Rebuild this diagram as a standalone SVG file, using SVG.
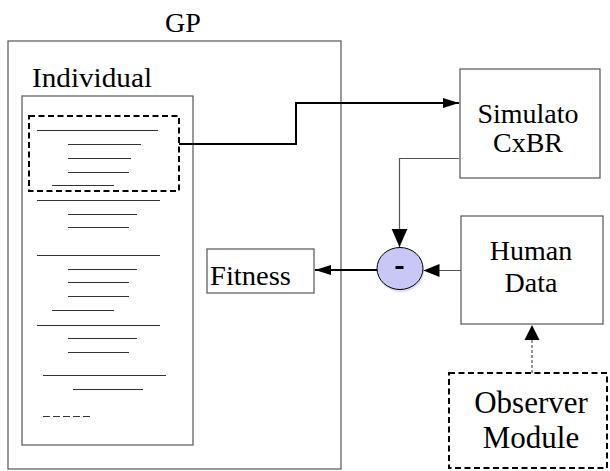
<svg xmlns="http://www.w3.org/2000/svg" width="610" height="471" viewBox="0 0 610 471">
  <style>
    .box { fill: #ffffff; stroke: #555555; stroke-width: 1.2; }
    .dash { fill: none; stroke: #000000; stroke-width: 2; stroke-dasharray: 6 3.5; }
    .code { stroke: #333333; stroke-width: 1.1; }
    text { font-family: 'Liberation Serif', 'Times New Roman', Times, serif; font-size: 28px; fill: #000000; }
    .big { font-size: 31px; }
    .thick { fill: none; stroke: #000000; stroke-width: 2; }
    .thin { fill: none; stroke: #555555; stroke-width: 1.2; }
  </style>
  <defs>
    <marker id="headBig" markerUnits="userSpaceOnUse" markerWidth="18" markerHeight="18" viewBox="0 0 16 16" refX="16" refY="8" orient="auto">
      <path d="M0,1 L16,8 L0,15 Z" fill="#000000"/>
    </marker>
    <marker id="headMid" markerUnits="userSpaceOnUse" markerWidth="16" markerHeight="14" viewBox="0 0 16 14" refX="16" refY="7" orient="auto">
      <path d="M0,0.5 L16,7 L0,13.5 Z" fill="#000000"/>
    </marker>
    <marker id="headSmall" markerUnits="userSpaceOnUse" markerWidth="16" markerHeight="12" viewBox="0 0 16 12" refX="16" refY="6" orient="auto">
      <path d="M0,1 L16,6 L0,11 Z" fill="#000000"/>
    </marker>
  </defs>

  <!-- GP container -->
  <g id="gp">
    <text x="183" y="32" text-anchor="middle">GP</text>
    <rect class="box" x="8" y="41" width="333" height="428"/>
  </g>

  <!-- Individual program listing -->
  <g id="individual">
    <text x="32" y="87" textLength="120" lengthAdjust="spacingAndGlyphs">Individual</text>
    <rect class="box" x="22" y="96" width="171" height="349"/>
    <g class="code">
      <line x1="37" y1="130.5" x2="158" y2="130.5"/>
      <line x1="68" y1="144.5" x2="141" y2="144.5"/>
      <line x1="68" y1="158.5" x2="131" y2="158.5"/>
      <line x1="68" y1="172.5" x2="129" y2="172.5"/>
      <line x1="52" y1="185.5" x2="114" y2="185.5"/>
      <line x1="37" y1="200.5" x2="160" y2="200.5"/>
      <line x1="68" y1="214.5" x2="137" y2="214.5"/>
      <line x1="68" y1="227.5" x2="129" y2="227.5"/>
      <line x1="37" y1="255.5" x2="160" y2="255.5"/>
      <line x1="68" y1="269.5" x2="137" y2="269.5"/>
      <line x1="68" y1="282.5" x2="129" y2="282.5"/>
      <line x1="68" y1="296.5" x2="129" y2="296.5"/>
      <line x1="52" y1="310.5" x2="114" y2="310.5"/>
      <line x1="37" y1="325.5" x2="160" y2="325.5"/>
      <line x1="68" y1="338.5" x2="137" y2="338.5"/>
      <line x1="68" y1="352.5" x2="129" y2="352.5"/>
      <line x1="43" y1="375.5" x2="166" y2="375.5"/>
      <line x1="73" y1="389.5" x2="143" y2="389.5"/>
      <line x1="43" y1="416.5" x2="91" y2="416.5" stroke-dasharray="7 3"/>
    </g>
    <!-- selected subtree -->
    <rect class="dash" x="29" y="116" width="150" height="75"/>
  </g>

  <!-- Fitness -->
  <g id="fitness">
    <rect class="box" x="207" y="249" width="107" height="44"/>
    <text x="210" y="285" textLength="81" lengthAdjust="spacingAndGlyphs">Fitness</text>
  </g>

  <!-- Simulator -->
  <g id="simulator">
    <rect class="box" x="460" y="69" width="140" height="109"/>
    <text x="528" y="123" text-anchor="middle">Simulato</text>
    <text x="528" y="152" text-anchor="middle">CxBR</text>
  </g>

  <!-- Human data -->
  <g id="human-data">
    <rect class="box" x="461" y="216" width="142" height="108"/>
    <text x="531" y="260" text-anchor="middle">Human</text>
    <text x="531" y="292" text-anchor="middle">Data</text>
  </g>

  <!-- Observer module -->
  <g id="observer">
    <rect class="dash" x="449" y="373" width="158" height="95"/>
    <text class="big" x="531" y="413" text-anchor="middle">Observer</text>
    <text class="big" x="531" y="448" text-anchor="middle">Module</text>
  </g>

  <!-- Difference operator -->
  <g id="difference">
    <ellipse cx="401" cy="271" rx="23" ry="21" fill="#dcdcf8"/>
    <ellipse cx="400" cy="268.5" rx="23" ry="21" fill="#c8c8f6" stroke="#000000" stroke-width="1"/>
    <rect x="395.5" y="266" width="8" height="3" fill="#000000"/>
  </g>

  <!-- Connectors -->
  <g id="connectors">
    <polyline class="thick" points="179,144 296,144 296,103 459,103" marker-end="url(#headSmall)"/>
    <polyline class="thin" points="459,158.5 399.5,158.5 399.5,247" marker-end="url(#headBig)"/>
    <line class="thin" x1="461" y1="270.5" x2="423.5" y2="270.5" marker-end="url(#headMid)"/>
    <line class="thick" x1="377" y1="270" x2="315" y2="270" stroke-width="1.6" marker-end="url(#headSmall)"/>
    <polyline points="532,373 532,340" fill="none" stroke="#777777" stroke-width="1.5" stroke-dasharray="3 2"/>
    <path d="M524.5,340 L532,325 L539.5,340 Z" fill="#000000"/>
  </g>
</svg>
